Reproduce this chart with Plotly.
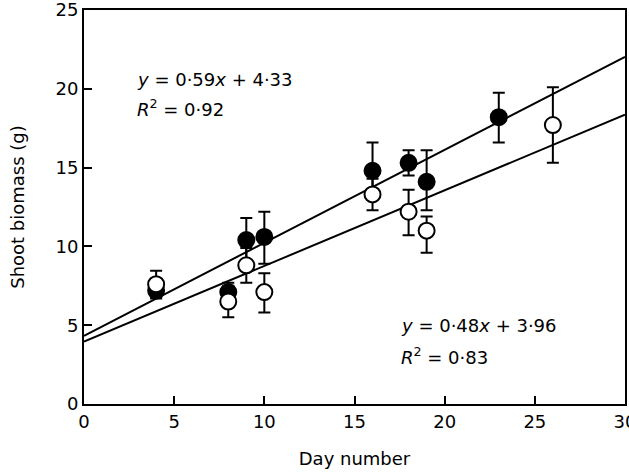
import plotly.graph_objects as go

# Filled circles series
days_filled = [4, 8, 9, 10, 16, 18, 19, 23]
biomass_filled = [7.2, 7.1, 10.4, 10.6, 14.8, 15.3, 14.1, 18.2]
err_filled_plus = [0.5, 0.6, 1.4, 1.6, 1.8, 0.8, 2.0, 1.55]
err_filled_minus = [0.5, 0.6, 1.4, 1.7, 1.8, 0.8, 1.8, 1.6]

# Open circles series
days_open = [4, 8, 9, 10, 16, 18, 19, 26]
biomass_open = [7.6, 6.5, 8.8, 7.1, 13.3, 12.2, 11.0, 17.7]
err_open_plus = [0.85, 1.0, 1.1, 1.2, 1.0, 1.4, 0.9, 2.4]
err_open_minus = [0.85, 1.0, 1.1, 1.3, 1.0, 1.5, 1.4, 2.4]

# Regression lines (slope, intercept)
fit_filled = (0.59, 4.33)
fit_open = (0.48, 3.96)
line_x = [0, 30]

x_ticks = [0, 5, 10, 15, 20, 25, 30]
y_ticks = [0, 5, 10, 15, 20, 25]

FONT = "DejaVu Sans, Arial, sans-serif"

fig = go.Figure()

fig.add_trace(go.Scatter(
    x=line_x, y=[fit_filled[0] * v + fit_filled[1] for v in line_x],
    mode="lines", line=dict(color="black", width=2), showlegend=False, hoverinfo="skip"))
fig.add_trace(go.Scatter(
    x=line_x, y=[fit_open[0] * v + fit_open[1] for v in line_x],
    mode="lines", line=dict(color="black", width=2), showlegend=False, hoverinfo="skip"))

fig.add_trace(go.Scatter(
    x=days_filled, y=biomass_filled, mode="markers",
    marker=dict(size=16, color="black", line=dict(color="black", width=2)),
    error_y=dict(type="data", array=err_filled_plus, arrayminus=err_filled_minus,
                 color="black", thickness=2, width=6),
    showlegend=False))
fig.add_trace(go.Scatter(
    x=days_open, y=biomass_open, mode="markers",
    marker=dict(size=16, color="white", line=dict(color="black", width=2)),
    error_y=dict(type="data", array=err_open_plus, arrayminus=err_open_minus,
                 color="black", thickness=2, width=6),
    showlegend=False))

ann_font = dict(family=FONT, size=18, color="black")
fig.add_annotation(x=2.85, y=20.6, xref="x", yref="y", xanchor="left", yanchor="middle",
                   text="<i>y</i> = 0·59<i>x</i> + 4·33", showarrow=False, font=ann_font)
fig.add_annotation(x=2.85, y=18.8, xref="x", yref="y", xanchor="left", yanchor="middle",
                   text="<i>R</i><sup>2</sup> = 0·92", showarrow=False, font=ann_font)
fig.add_annotation(x=17.45, y=4.95, xref="x", yref="y", xanchor="left", yanchor="middle",
                   text="<i>y</i> = 0·48<i>x</i> + 3·96", showarrow=False, font=ann_font)
fig.add_annotation(x=17.45, y=3.05, xref="x", yref="y", xanchor="left", yanchor="middle",
                   text="<i>R</i><sup>2</sup> = 0·83", showarrow=False, font=ann_font)

axis_common = dict(showline=True, linecolor="black", linewidth=2, mirror=True,
                   ticks="inside", ticklen=8, tickwidth=2, tickcolor="black",
                   showgrid=False, zeroline=False, ticklabeloverflow="allow",
                   tickfont=dict(family=FONT, size=18, color="black"))

fig.update_xaxes(range=[0, 30], tickvals=x_ticks, ticktext=[str(v) for v in x_ticks],
                 title=dict(text="Day number", font=dict(family=FONT, size=18, color="black"), standoff=22),
                 **axis_common)
fig.update_yaxes(range=[0, 25], tickvals=y_ticks, ticktext=[str(v) for v in y_ticks],
                 title=dict(text="Shoot biomass (g)", font=dict(family=FONT, size=18, color="black"), standoff=26),
                 **axis_common)

fig.update_layout(width=629, height=472, plot_bgcolor="white", paper_bgcolor="white",
                  margin=dict(l=84, r=4, t=10, b=68, autoexpand=False),
                  font=dict(family=FONT, size=18, color="black"))

fig.write_html("out.html", config={"displayModeBar": False},
               post_script="document.body.style.margin='0';document.body.style.overflow='hidden';")
